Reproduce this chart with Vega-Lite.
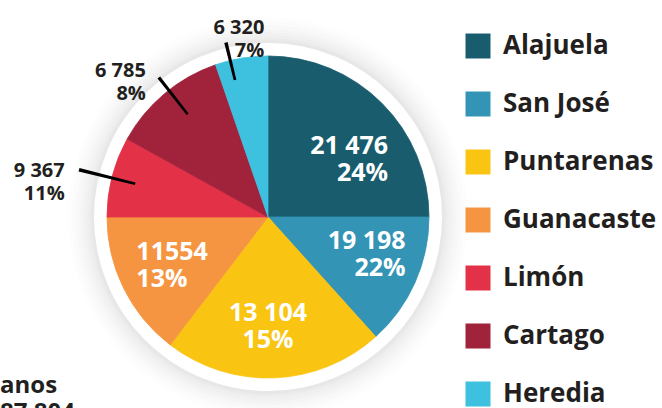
{
  "$schema": "https://vega.github.io/schema/vega-lite/v6.json",
  "width": 536,
  "height": 408,
  "autosize": {"type": "none"},
  "padding": {"left": 0, "top": 13, "right": 126, "bottom": 0},
  "background": "white",
  "config": {"view": {"stroke": null}},
  "datasets": {
    "provinces": [
      {"rank": 1, "province": "Alajuela", "value": 21476, "pct": 24, "angle": 90, "label": "21 476\n24%"},
      {"rank": 2, "province": "San José", "value": 19198, "pct": 22, "angle": 48, "label": "19 198\n22%"},
      {"rank": 3, "province": "Puntarenas", "value": 13104, "pct": 15, "angle": 79.4, "label": "13 104\n15%"},
      {"rank": 4, "province": "Guanacaste", "value": 11554, "pct": 13, "angle": 52.6, "label": "11554\n13%"},
      {"rank": 5, "province": "Limón", "value": 9367, "pct": 11, "angle": 29, "label": "9 367\n11%"},
      {"rank": 6, "province": "Cartago", "value": 6785, "pct": 8, "angle": 42, "label": "6 785\n8%"},
      {"rank": 7, "province": "Heredia", "value": 6320, "pct": 7, "angle": 19, "label": "6 320\n7%"}
    ],
    "leaders": [
      {"province": "Limón", "a1": 283.5, "a2": 284.6, "r1": 0.85, "r2": 1.21},
      {"province": "Cartago", "a1": 321.4, "a2": 322.5, "r1": 0.81, "r2": 1.10},
      {"province": "Heredia", "a1": 345.9, "a2": 347.0, "r1": 0.875, "r2": 1.115}
    ]
  },
  "title": {
    "text": "anos",
    "subtitle": "87 804",
    "orient": "bottom",
    "anchor": "start",
    "frame": "group",
    "offset": -70,
    "font": "Open Sans",
    "fontSize": 24,
    "fontWeight": "bold",
    "color": "#231f20",
    "subtitleFont": "Open Sans",
    "subtitleFontSize": 24,
    "subtitleFontWeight": "bold",
    "subtitleColor": "#231f20",
    "subtitlePadding": 3
  },
  "resolve": {"scale": {"radius": "independent"}},
  "layer": [
    {"data": {"values": [{}]}, "mark": {"type": "arc", "theta": 0, "theta2": 6.2832, "radius": 200, "fill": "#000", "fillOpacity": 0.008}, "encoding": {}},
    {"data": {"values": [{}]}, "mark": {"type": "arc", "theta": 0, "theta2": 6.2832, "radius": 196, "fill": "#000", "fillOpacity": 0.009}, "encoding": {}},
    {"data": {"values": [{}]}, "mark": {"type": "arc", "theta": 0, "theta2": 6.2832, "radius": 192, "fill": "#000", "fillOpacity": 0.01}, "encoding": {}},
    {"data": {"values": [{}]}, "mark": {"type": "arc", "theta": 0, "theta2": 6.2832, "radius": 188, "fill": "#000", "fillOpacity": 0.011}, "encoding": {}},
    {"data": {"values": [{}]}, "mark": {"type": "arc", "theta": 0, "theta2": 6.2832, "radius": 185, "fill": "#000", "fillOpacity": 0.012}, "encoding": {}},
    {"data": {"values": [{}]}, "mark": {"type": "arc", "theta": 0, "theta2": 6.2832, "radius": 182, "fill": "#000", "fillOpacity": 0.013}, "encoding": {}},
    {"data": {"values": [{}]}, "mark": {"type": "arc", "theta": 0, "theta2": 6.2832, "radius": 179, "fill": "#000", "fillOpacity": 0.014}, "encoding": {}},
    {"data": {"values": [{}]}, "mark": {"type": "arc", "theta": 0, "theta2": 6.2832, "radius": 177, "fill": "#000", "fillOpacity": 0.015}, "encoding": {}},
    {"data": {"values": [{}]}, "mark": {"type": "arc", "theta": 0, "theta2": 6.2832, "radius": 174, "fill": "#ffffff"}, "encoding": {}},
    {
      "data": {"name": "provinces"},
      "mark": {"type": "arc", "radius": 161, "strokeWidth": 0.8},
      "encoding": {
        "theta": {"field": "angle", "type": "quantitative", "stack": true, "scale": {"domain": [0, 360], "range": [0, 6.2832]}},
        "order": {"field": "rank", "type": "quantitative"},
        "color": {
          "field": "province", "type": "nominal",
          "scale": {
            "domain": ["Alajuela", "San José", "Puntarenas", "Guanacaste", "Limón", "Cartago", "Heredia"],
            "range": ["#185C6D", "#3394B5", "#FAC412", "#F69541", "#E33247", "#A0223B", "#3EC1DF"]
          },
          "legend": {
            "orient": "none",
            "legendX": 465,
            "legendY": 20,
            "title": null,
            "symbolType": "square",
            "symbolSize": 625,
            "symbolStrokeWidth": 0,
            "symbolOpacity": 1,
            "labelFont": "Open Sans",
            "labelFontSize": 26,
            "labelFontWeight": "bold",
            "labelColor": "#231f20",
            "labelOffset": 12,
            "rowPadding": 32,
            "padding": 0,
            "labelLimit": 300
          }
        },
        "stroke": {
          "field": "province", "type": "nominal",
          "scale": {
            "domain": ["Alajuela", "San José", "Puntarenas", "Guanacaste", "Limón", "Cartago", "Heredia"],
            "range": ["#185C6D", "#3394B5", "#FAC412", "#F69541", "#E33247", "#A0223B", "#3EC1DF"]
          },
          "legend": null
        }
      }
    },
    {
      "data": {"name": "leaders"},
      "mark": {"type": "arc", "fill": "#000000"},
      "encoding": {
        "theta": {"field": "a1", "type": "quantitative", "scale": {"domain": [0, 360], "range": [0, 6.2832]}},
        "theta2": {"field": "a2"},
        "radius": {"field": "r1", "type": "quantitative", "scale": {"type": "linear", "domain": [0, 1], "range": [0, 161], "zero": true}},
        "radius2": {"field": "r2"}
      }
    },
    {
      "data": {"name": "provinces"},
      "mark": {"type": "text", "radius": 85, "dx": 60, "dy": -11, "font": "Open Sans", "fontSize": 25, "fontWeight": "bold", "fill": "#ffffff", "lineBreak": "\n", "lineHeight": 27, "align": "right", "baseline": "middle"},
      "encoding": {
        "theta": {"field": "angle", "type": "quantitative", "stack": true, "scale": {"domain": [0, 360], "range": [0, 6.2832]}},
        "order": {"field": "rank", "type": "quantitative"},
        "text": {"condition": {"test": "datum.rank <= 2", "field": "label"}, "value": ""}
      }
    },
    {
      "data": {"name": "provinces"},
      "mark": {"type": "text", "radius": 100, "dx": -4, "dy": -4, "font": "Open Sans", "fontSize": 25, "fontWeight": "bold", "fill": "#ffffff", "lineBreak": "\n", "lineHeight": 27, "align": "center", "baseline": "middle"},
      "encoding": {
        "theta": {"field": "angle", "type": "quantitative", "stack": true, "scale": {"domain": [0, 360], "range": [0, 6.2832]}},
        "order": {"field": "rank", "type": "quantitative"},
        "text": {"condition": {"test": "datum.rank === 3", "field": "label"}, "value": ""}
      }
    },
    {
      "data": {"name": "provinces"},
      "mark": {"type": "text", "radius": 100, "dx": -42, "dy": -9, "font": "Open Sans", "fontSize": 25, "fontWeight": "bold", "fill": "#ffffff", "lineBreak": "\n", "lineHeight": 27, "align": "left", "baseline": "middle"},
      "encoding": {
        "theta": {"field": "angle", "type": "quantitative", "stack": true, "scale": {"domain": [0, 360], "range": [0, 6.2832]}},
        "order": {"field": "rank", "type": "quantitative"},
        "text": {"condition": {"test": "datum.rank === 4", "field": "label"}, "value": ""}
      }
    },
    {
      "data": {"name": "provinces"},
      "mark": {"type": "text", "radius": 192, "dx": 28, "font": "Open Sans", "fontSize": 20, "fontWeight": "bold", "fill": "#231f20", "lineBreak": "\n", "lineHeight": 23, "align": "right", "baseline": "middle"},
      "encoding": {
        "theta": {"field": "angle", "type": "quantitative", "stack": true, "scale": {"domain": [0, 360], "range": [0, 6.2832]}},
        "order": {"field": "rank", "type": "quantitative"},
        "text": {"condition": {"test": "datum.province === 'Heredia'", "field": "label"}, "value": ""}
      }
    },
    {
      "data": {"name": "provinces"},
      "mark": {"type": "text", "radius": 190, "font": "Open Sans", "fontSize": 20, "fontWeight": "bold", "fill": "#231f20", "lineBreak": "\n", "lineHeight": 23, "align": "right", "baseline": "middle"},
      "encoding": {
        "theta": {"field": "angle", "type": "quantitative", "stack": true, "scale": {"domain": [0, 360], "range": [0, 6.2832]}},
        "order": {"field": "rank", "type": "quantitative"},
        "text": {"condition": {"test": "datum.province === 'Cartago'", "field": "label"}, "value": ""}
      }
    },
    {
      "data": {"name": "provinces"},
      "mark": {"type": "text", "radius": 210, "dy": 7, "font": "Open Sans", "fontSize": 20, "fontWeight": "bold", "fill": "#231f20", "lineBreak": "\n", "lineHeight": 23, "align": "right", "baseline": "middle"},
      "encoding": {
        "theta": {"field": "angle", "type": "quantitative", "stack": true, "scale": {"domain": [0, 360], "range": [0, 6.2832]}},
        "order": {"field": "rank", "type": "quantitative"},
        "text": {"condition": {"test": "datum.province === 'Limón'", "field": "label"}, "value": ""}
      }
    }
  ]
}
